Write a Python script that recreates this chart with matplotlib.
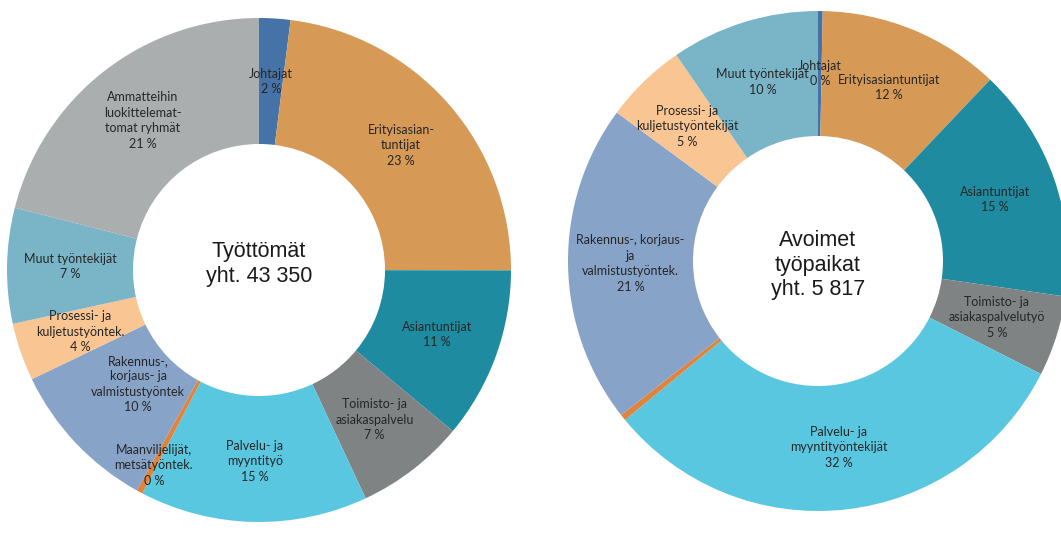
import numpy as np
import matplotlib
matplotlib.use("Agg")
import matplotlib.pyplot as plt

# occupational groups, clockwise from 12 o'clock
colors = ["#4673A7", "#D69A56", "#1E8BA1", "#7F8384", "#5AC7E1",
          "#E0833D", "#88A3C8", "#F9C593", "#7AB5C7", "#ABAEAF"]

# unemployed (shares in %)
left_names = ["Johtajat", "Erityisasian-\ntuntijat", "Asiantuntijat",
              "Toimisto- ja\nasiakaspalvelu", "Palvelu- ja\nmyyntityö",
              "Maanviljelijät,\nmetsätyöntek.",
              "Rakennus-,\nkorjaus- ja\nvalmistustyöntek",
              "Prosessi- ja\nkuljetustyöntek.", "Muut työntekijät",
              "Ammatteihin\nluokittelemat-\ntomat ryhmät"]
left_vals = [2.0, 23.0, 11.0, 7.0, 14.6, 0.4, 9.8, 3.7, 7.4, 21.0]
left_title = "Työttömät\nyht. 43 350"

# open vacancies (shares in %), no unclassified group
right_names = ["Johtajat", "Erityisasiantuntijat", "Asiantuntijat",
               "Toimisto- ja\nasiakaspalvelutyö",
               "Palvelu- ja\nmyyntityöntekijät", "",
               "Rakennus-, korjaus-\nja\nvalmistustyöntek.",
               "Prosessi- ja\nkuljetustyöntekijät", "Muut työntekijät"]
right_vals = [0.3, 11.8, 15.2, 5.2, 31.6, 0.4, 20.7, 5.3, 9.6]
right_title = "Avoimet\ntyöpaikat\nyht. 5 817"

W, H = 1061, 549
fig = plt.figure(figsize=(W / 100, H / 100), dpi=100)
ax = fig.add_axes([0, 0, 1, 1])


def donut(vals, names, cols, center, R, title, title_dy, lab_r):
    wedges, _ = ax.pie(vals, colors=cols, startangle=90, counterclock=False,
                       radius=R, center=center, frame=False,
                       wedgeprops=dict(width=R * 0.5, linewidth=0))
    for w, name, v, rf in zip(wedges, names, vals, lab_r):
        if not name:
            continue
        a = np.deg2rad((w.theta1 + w.theta2) / 2)
        x = center[0] + rf * R * np.cos(a)
        y = center[1] + rf * R * np.sin(a)
        ax.text(x, y, f"{name}\n{v:.0f} %", ha="center", va="center",
                fontsize=9, family="Lato", color="#262626",
                linespacing=1.35)
    ax.text(center[0], center[1] + title_dy, title, ha="center", va="center",
            fontsize=15.5, family="Liberation Sans", color="#1a1a1a",
            linespacing=1.2)


donut(left_vals, left_names, colors, (259, H - 270), 252, left_title, 6,
      [0.75, 0.75, 0.75, 0.75, 0.76, 0.88, 0.66, 0.75, 0.75, 0.75])
donut(right_vals, right_names, colors[:9], (818, H - 261), 250, right_title,
      -4, [0.75] * 9)

ax.set_xlim(0, W)
ax.set_ylim(0, H)
ax.set_aspect("equal")
ax.axis("off")
fig.savefig("out.png", dpi=100)
